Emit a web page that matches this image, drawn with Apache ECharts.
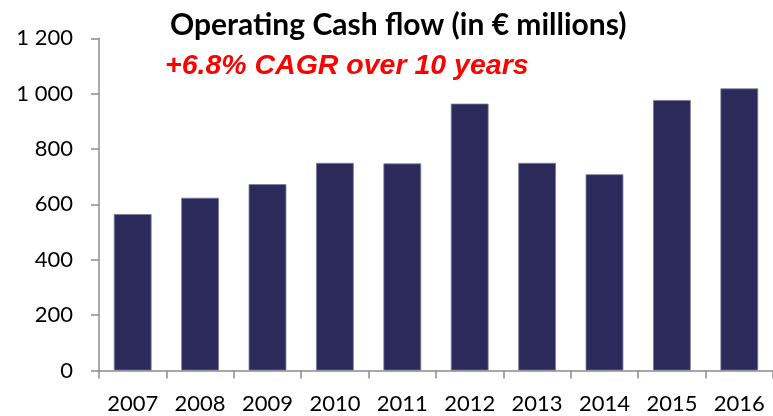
<!DOCTYPE html>
<html>
<head>
<meta charset="utf-8">
<script src="https://cdn.jsdelivr.net/npm/echarts@6/dist/echarts.min.js"></script>
<style>
  html, body { margin: 0; padding: 0; background: #ffffff; }
  #chart { width: 773px; height: 416px; }
</style>
</head>
<body>
<div id="chart"></div>
<script>
// Operating cash flow, € millions
const years = ['2007', '2008', '2009', '2010', '2011', '2012', '2013', '2014', '2015', '2016'];
const cashFlow = [565, 624, 673, 750, 748, 964, 750, 709, 977, 1019];
const yTicks = [0, 200, 400, 600, 800, 1000, 1200];

const titleText = 'Operating Cash flow (in € millions)';
const subtitleText = '+6.8% CAGR over 10 years';

const axisFont = 'Lato, "Open Sans", sans-serif';
const axisGray = '#8c8c8c';

const chart = echarts.init(document.getElementById('chart'), null, { renderer: 'canvas' });

chart.setOption({
  animation: false,
  backgroundColor: '#ffffff',
  grid: { left: 99, top: 38.3, width: 676, bottom: 45.5, containLabel: false },
  xAxis: {
    type: 'category',
    data: years,
    axisLine: { lineStyle: { color: axisGray, width: 1.5 } },
    axisTick: { show: true, length: 8, lineStyle: { color: axisGray, width: 1.5 } },
    axisLabel: { color: '#000', fontFamily: axisFont, fontSize: 22, margin: 22, interval: 0 }
  },
  yAxis: {
    type: 'value',
    min: yTicks[0],
    max: yTicks[yTicks.length - 1],
    interval: 200,
    splitLine: { show: false },
    axisLine: { show: true, lineStyle: { color: axisGray, width: 1.5 } },
    axisTick: { show: true, length: 8, lineStyle: { color: axisGray, width: 1.5 } },
    axisLabel: {
      color: '#000', fontFamily: axisFont, fontSize: 22, margin: 26,
      formatter: v => String(v).replace(/\B(?=(\d{3})+(?!\d))/g, ' ')
    }
  },
  series: [{
    type: 'bar',
    data: cashFlow,
    barWidth: '56%',
    itemStyle: { color: '#2b2a5b', borderColor: '#7d7c9e', borderWidth: 0.8 }
  }],
  graphic: [
    {
      type: 'text', left: 170, top: 10,
      style: { text: titleText, fill: '#000', font: 'bold 30px Lato, "Open Sans", sans-serif' }
    },
    {
      type: 'text', left: 165, top: 52,
      style: { text: subtitleText, fill: '#ff0000', font: 'italic bold 28.5px "Liberation Sans", Arial, sans-serif' }
    }
  ]
});
</script>
</body>
</html>
